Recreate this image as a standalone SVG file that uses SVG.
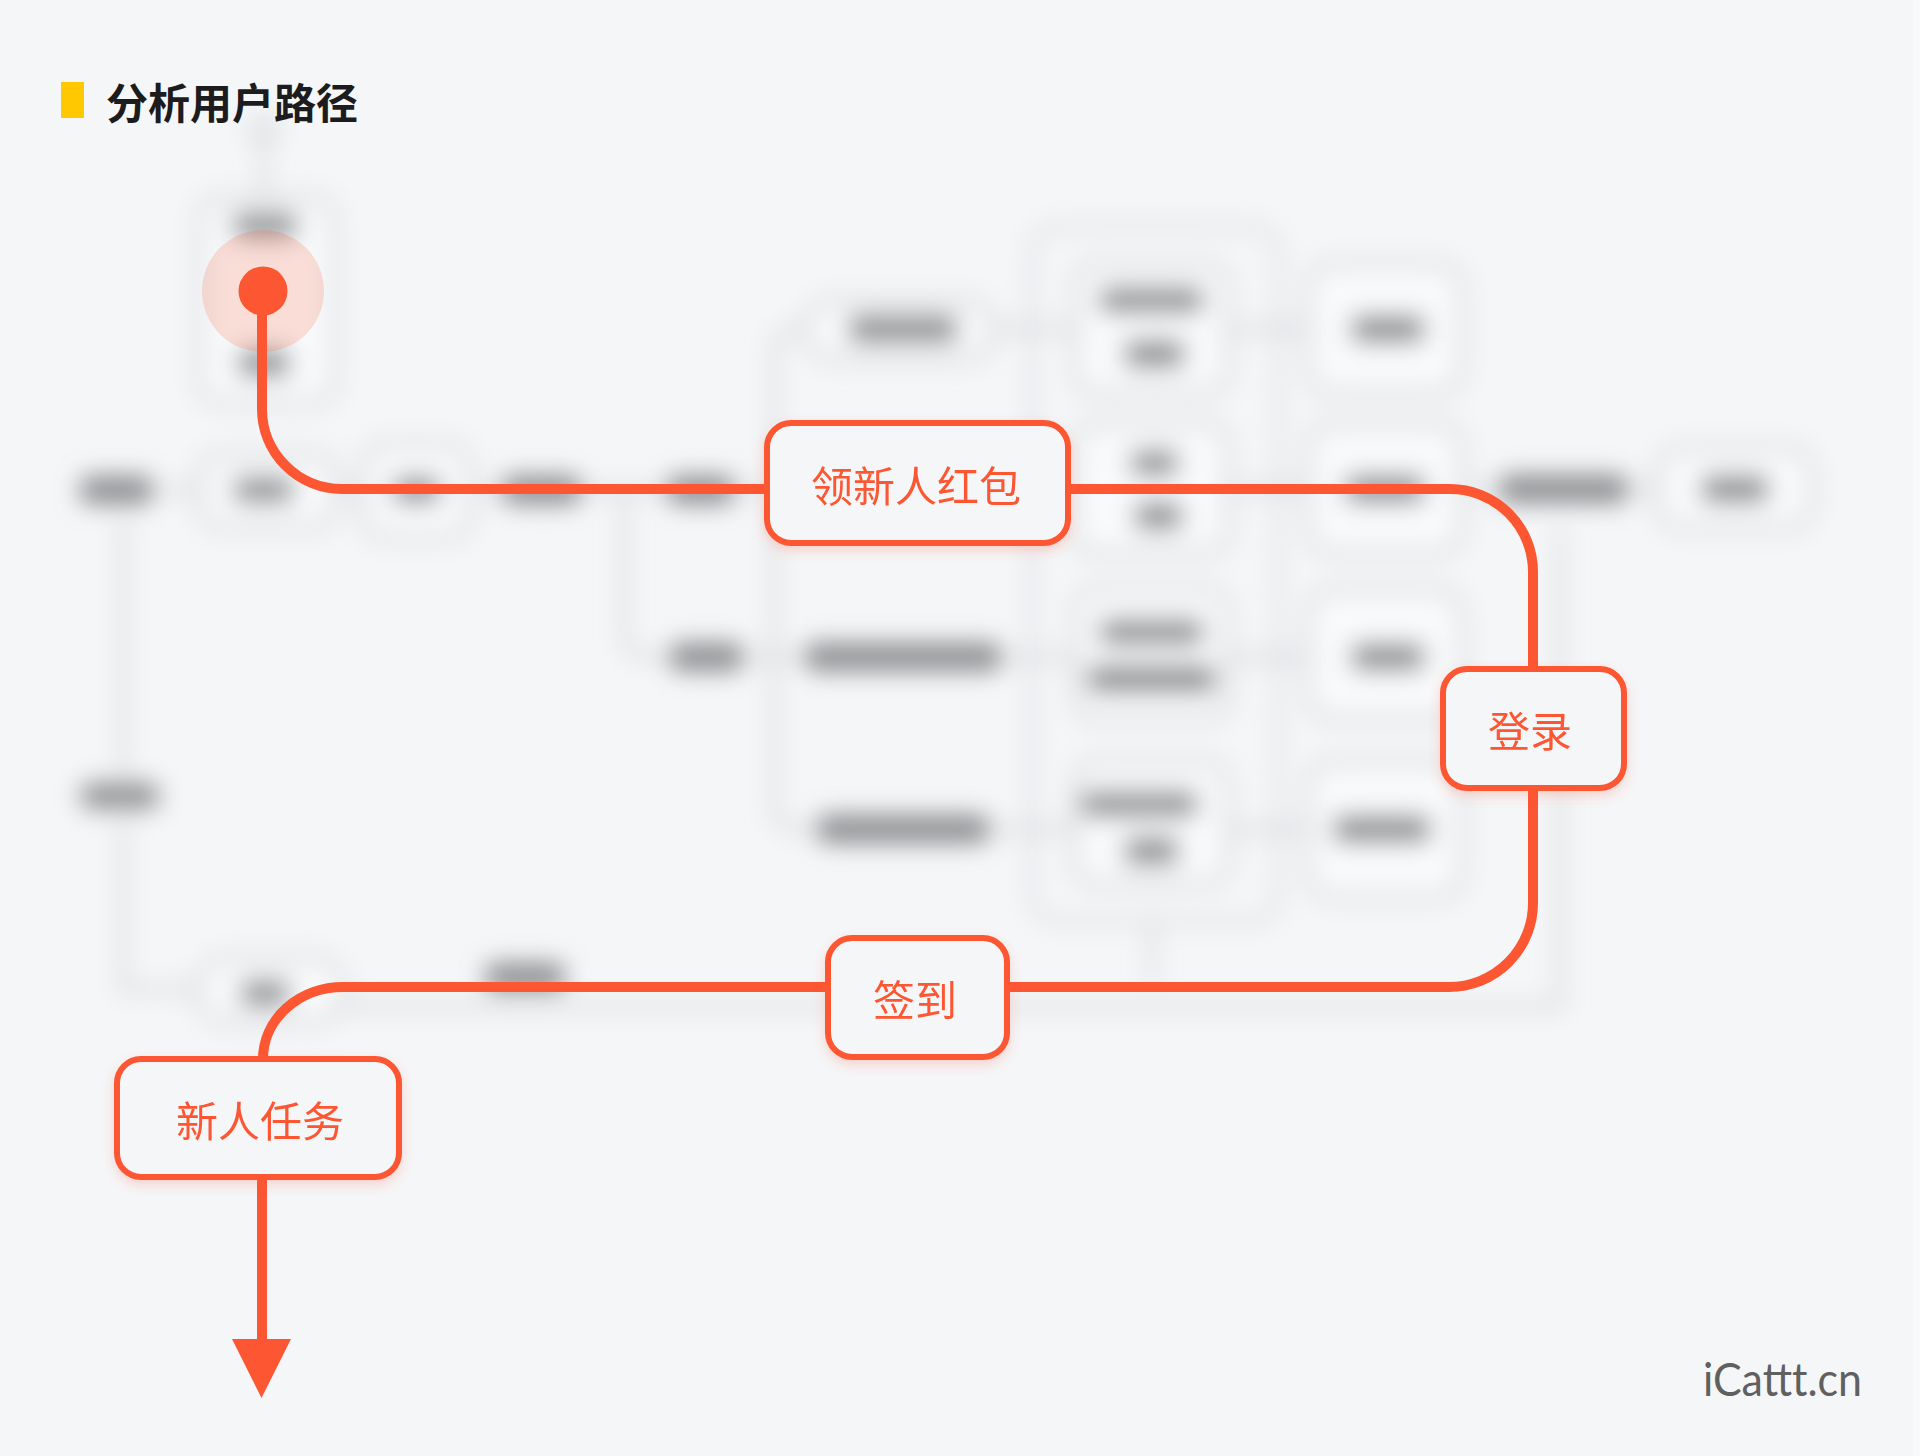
<svg xmlns="http://www.w3.org/2000/svg" width="1920" height="1456" viewBox="0 0 1920 1456">
<defs>
<style>
.bgbox{fill:#f9fafb;stroke:#d3d4d7;stroke-width:7}
.bgln{fill:none;stroke:#d1d2d5;stroke-width:6}
.blob{fill:#8c8d90}
.cut{fill:#f5f6f8}
.path{fill:none;stroke:#fc5633;stroke-width:10;stroke-linecap:butt}
.node rect{fill:#f5f6f8;stroke:#fc5633;stroke-width:6}
.node text{fill:#fc5633;font-family:"Noto Sans CJK SC","Noto Sans",sans-serif;font-size:42px;font-weight:400;text-anchor:middle;dominant-baseline:central}
</style>
<filter id="blur" x="-5%" y="-5%" width="110%" height="110%">
<feGaussianBlur stdDeviation="12"/>
</filter>
<filter id="glow" x="-20%" y="-30%" width="140%" height="170%">
<feDropShadow dx="0" dy="5" stdDeviation="6" flood-color="#fc5633" flood-opacity="0.22"/>
</filter>
</defs>
<rect width="1920" height="1456" fill="#f5f6f8"/>
<rect x="1913" y="0" width="7" height="1456" fill="#f8f9fa"/>

<!-- blurred background diagram -->
<g id="background" filter="url(#blur)">
<circle cx="264" cy="130" r="12" class="bgln"/>
<path class="bgln" d="M264 142 V198"/>
<rect class="bgbox" x="200" y="198" width="134" height="205" rx="20"/>
<rect class="blob" x="232" y="213" width="66" height="26" rx="10"/>
<rect class="blob" x="238" y="349" width="52" height="28" rx="10"/>
<!-- main row -->
<path class="bgln" d="M160 490 H200 M335 490 H363 M470 490 H502 M581 490 H667"/>
<rect class="blob" x="80" y="476" width="73" height="28" rx="10"/>
<rect class="bgbox" x="200" y="455" width="135" height="72" rx="20"/>
<rect class="blob" x="233" y="477" width="61" height="26" rx="10"/>
<rect class="bgbox" x="363" y="445" width="107" height="92" rx="22"/>
<rect class="blob" x="392" y="477" width="49" height="26" rx="10"/>
<rect class="blob" x="502" y="476" width="79" height="28" rx="10"/>
<rect class="blob" x="667" y="476" width="67" height="28" rx="10"/>
<!-- branch to lower row -->
<path class="bgln" d="M624 490 V630 Q624 657 650 657 H670"/>
<rect class="blob" x="670" y="643" width="73" height="28" rx="10"/>
<path class="bgln" d="M743 657 H805"/>
<path class="bgln" d="M734 490 H774 M774 355 Q774 329 800 329 M774 355 V803 Q774 829 800 829 H817"/>
<!-- left column -->
<path class="bgln" d="M123 515 V989 H200"/>
<rect class="cut" x="75" y="776" width="95" height="42"/>
<rect class="blob" x="80" y="782" width="80" height="28" rx="10"/>
<rect class="bgbox" x="197" y="958" width="147" height="64" rx="32"/>
<rect class="blob" x="240" y="980" width="50" height="26" rx="10"/>
<rect class="blob" x="485" y="963" width="80" height="28" rx="10"/>
<path class="bgln" d="M344 1007 H1560 V528"/>
<!-- middle column rows -->
<rect class="bgbox" x="805" y="301" width="190" height="58" rx="29"/>
<rect class="blob" x="848" y="315" width="110" height="28" rx="10"/>
<rect class="blob" x="805" y="643" width="196" height="28" rx="10"/>
<rect class="blob" x="817" y="815" width="172" height="28" rx="10"/>
<path class="bgln" d="M995 329 H1075 M1001 657 H1075 M989 829 H1075"/>
<rect class="bgbox" x="1032" y="227" width="246" height="694" rx="24" style="fill:none;stroke:#dcdde0"/>
<path class="bgln" d="M1152 921 V983"/>
<rect class="bgbox" x="1075" y="264" width="153" height="129" rx="20"/>
<rect class="blob" x="1099" y="287" width="105" height="26" rx="10"/>
<rect class="blob" x="1124" y="340" width="61" height="28" rx="10"/>
<rect class="bgbox" x="1075" y="424" width="153" height="129" rx="20"/>
<rect class="blob" x="1130" y="450" width="49" height="26" rx="10"/>
<rect class="blob" x="1134" y="502" width="49" height="28" rx="10"/>
<rect class="bgbox" x="1075" y="590" width="153" height="129" rx="20"/>
<rect class="blob" x="1099" y="619" width="105" height="26" rx="10"/>
<rect class="blob" x="1087" y="665" width="129" height="28" rx="10"/>
<rect class="bgbox" x="1075" y="762" width="153" height="122" rx="20"/>
<rect class="blob" x="1081" y="791" width="117" height="26" rx="10"/>
<rect class="blob" x="1124" y="837" width="55" height="28" rx="10"/>
<path class="bgln" d="M1228 329 H1308 M1228 489 H1308 M1228 657 H1308 M1228 829 H1308"/>
<rect class="bgbox" x="1308" y="264" width="154" height="129" rx="24"/>
<rect class="blob" x="1351" y="315" width="74" height="28" rx="10"/>
<rect class="bgbox" x="1308" y="424" width="154" height="129" rx="24"/>
<rect class="blob" x="1345" y="475" width="80" height="28" rx="10"/>
<rect class="bgbox" x="1308" y="590" width="154" height="129" rx="24"/>
<rect class="blob" x="1351" y="643" width="74" height="28" rx="10"/>
<rect class="bgbox" x="1308" y="762" width="154" height="135" rx="24"/>
<rect class="blob" x="1333" y="815" width="98" height="28" rx="10"/>
<path class="bgln" d="M1462 489 H1499 M1628 489 H1658"/>
<rect class="blob" x="1499" y="475" width="129" height="28" rx="10"/>
<rect class="bgbox" x="1658" y="448" width="154" height="80" rx="24"/>
<rect class="blob" x="1701" y="475" width="68" height="28" rx="10"/>
</g>

<!-- title -->
<g id="title">
<rect x="61" y="82" width="23" height="36" fill="#ffc800"/>
<text x="106" y="100" font-family="'Noto Sans CJK SC','Noto Sans',sans-serif" font-size="42" font-weight="700" fill="#1c1c1e" dominant-baseline="central">分析用户路径</text>
</g>

<!-- start point -->
<g id="start">
<circle cx="263" cy="291" r="61" fill="#fc5633" fill-opacity="0.18"/>
<circle cx="263" cy="291" r="24.5" fill="#fc5633"/>
</g>

<!-- connectors -->
<g id="connectors">
<path class="path" d="M262 300 V409 A80 80 0 0 0 342 489 H770"/>
<path class="path" d="M1065 489 H1450 A83 83 0 0 1 1533 572 V672"/>
<path class="path" d="M1533 785 V903 A84 84 0 0 1 1449 987 H1004"/>
<path class="path" d="M831 987 H343 A80 72 0 0 0 263 1059 V1062"/>
<path class="path" d="M262 1174 V1342"/>
<polygon points="232,1339 291,1339 261.5,1398" fill="#fc5633"/>
</g>

<!-- nodes -->
<g id="node-hongbao" class="node" filter="url(#glow)">
<rect x="767" y="423" width="301" height="120" rx="24"/>
<text x="916" y="483">领新人红包</text>
</g>
<g id="node-denglu" class="node" filter="url(#glow)">
<rect x="1443" y="669" width="181" height="119" rx="24"/>
<text x="1530" y="728">登录</text>
</g>
<g id="node-qiandao" class="node" filter="url(#glow)">
<rect x="828" y="938" width="179" height="119" rx="24"/>
<text x="915" y="997">签到</text>
</g>
<g id="node-xinren" class="node" filter="url(#glow)">
<rect x="117" y="1059" width="282" height="118" rx="24"/>
<text x="260" y="1118">新人任务</text>
</g>

<!-- watermark -->
<text x="1703" y="1396" font-family="Lato,'Noto Sans',sans-serif" font-size="47" fill="#606060" textLength="159" lengthAdjust="spacingAndGlyphs">iCattt.cn</text>
</svg>
